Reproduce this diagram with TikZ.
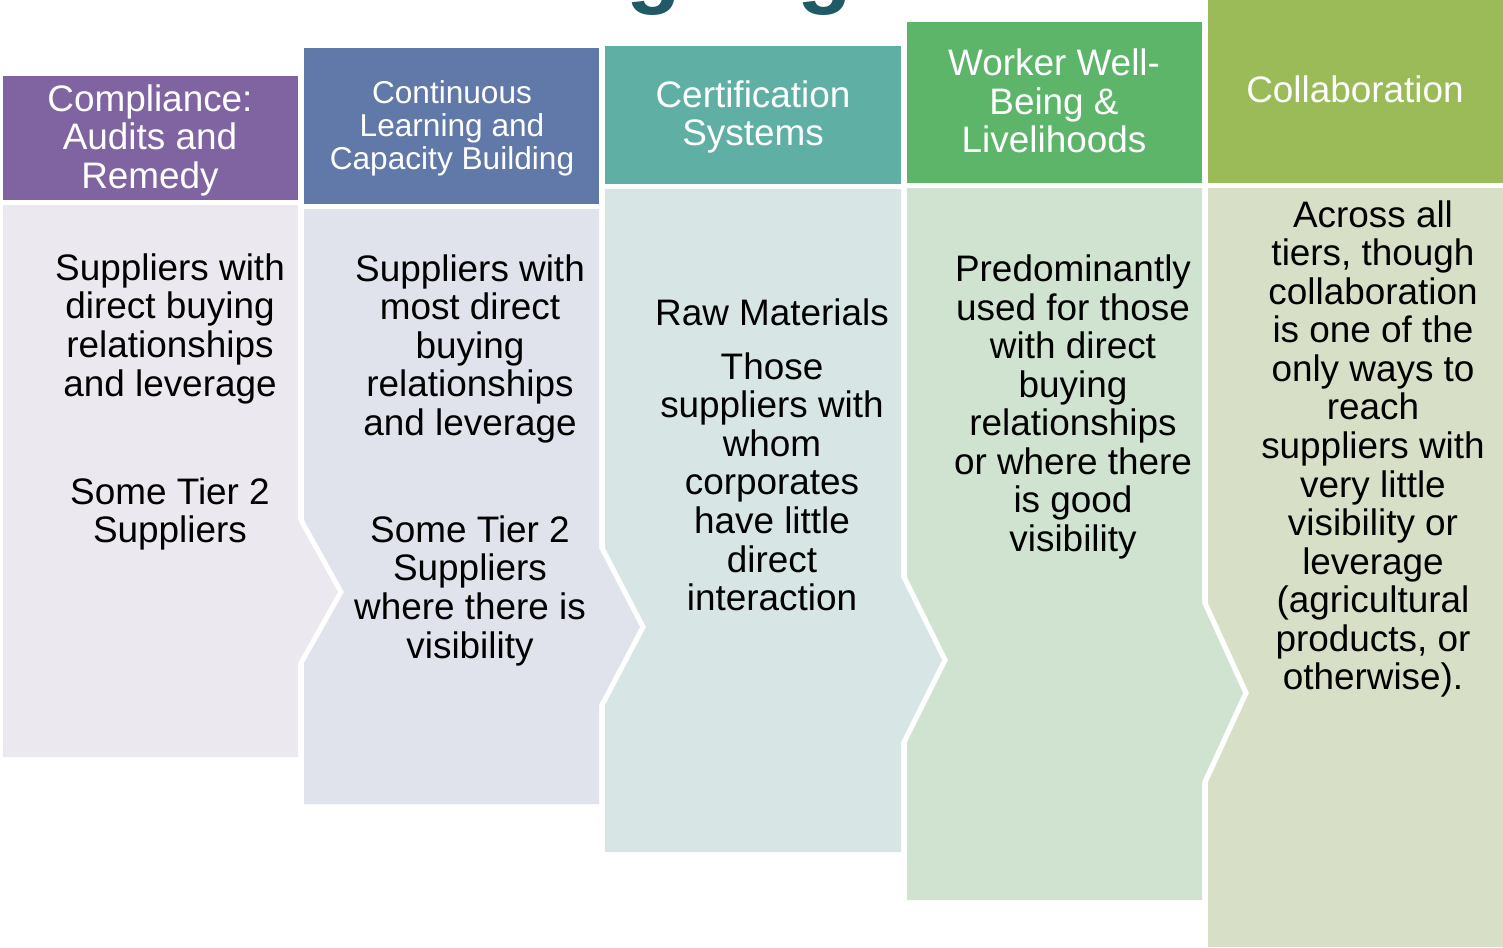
\documentclass[tikz,border=0pt]{standalone}
\usepackage{fontspec}
\setmainfont{Liberation Sans}
\usepackage{xcolor}
\definecolor{titlecolor}{RGB}{31,90,102}
\definecolor{complycolor}{RGB}{128,100,162}
\definecolor{learncolor}{RGB}{97,121,168}
\definecolor{certcolor}{RGB}{95,175,165}
\definecolor{workercolor}{RGB}{93,181,106}
\definecolor{collabcolor}{RGB}{155,187,89}
\definecolor{complybody}{RGB}{235,233,239}
\definecolor{learnbody}{RGB}{224,227,236}
\definecolor{certbody}{RGB}{216,229,229}
\definecolor{workerbody}{RGB}{207,227,208}
\definecolor{collabbody}{RGB}{215,224,198}

\begin{document}
\begin{tikzpicture}[
    x=0.02cm, y=-0.02cm,
    head/.style={text=white, align=center, inner sep=0pt,
                 font=\fontsize{21}{21.9}\selectfont},
    smallhead/.style={head, font=\fontsize{18}{18.8}\selectfont},
    body/.style={text=black, align=center, inner sep=0pt,
                 font=\fontsize{21}{21.95}\selectfont},
    glyph/.style={text=titlecolor, inner sep=0pt, anchor=base,
                  font=\fontsize{51}{51}\selectfont\bfseries},
]
\useasboundingbox (0,0) rectangle (1503,947);

% Title (only its descenders are on the page)
\node[glyph] (titleg1) at (654,-4) {g};
\node[glyph] (titleg2) at (825,-4) {g};

% Column 1: Compliance
\fill[complycolor] (3,76) rectangle (298,200);
\fill[complybody] (3,205) -- (298,205) -- (298,520) -- (338,592)
    -- (298,663) -- (298,757) -- (3,757) -- cycle;
\node[head] (comply) at (150,140) {Compliance:\\Audits and\\Remedy};
\node[body] (complytxt) at (170,402)
    {Suppliers with\\direct buying\\relationships\\and leverage\\[1.39cm]
     Some Tier 2\\Suppliers};

% Column 2: Continuous Learning
\fill[learncolor] (304,48) rectangle (599,204);
\fill[learnbody] (304,209) -- (599,209) -- (599,548) -- (640,627)
    -- (599,705) -- (599,804) -- (304,804) -- (304,663) -- (344,592)
    -- (304,520) -- cycle;
\node[smallhead] (learn) at (452,128)
    {Continuous\\Learning and\\Capacity Building};
\node[body] (learntxt) at (470,460)
    {Suppliers with\\most direct\\buying\\relationships\\and leverage\\[1.37cm]
     Some Tier 2\\Suppliers\\where there is\\visibility};

% Column 3: Certification
\fill[certcolor] (605,46) rectangle (901,184);
\fill[certbody] (605,189) -- (901,189) -- (901,577) -- (942,660)
    -- (901,742) -- (901,852) -- (605,852) -- (605,705) -- (646,627)
    -- (605,548) -- cycle;
\node[head] (cert) at (753,117) {Certification\\Systems};
\node[body] (certtxt) at (772,455)
    {Raw Materials\\[0.3cm]
     Those\\suppliers with\\whom\\corporates\\have little\\direct\\interaction};

% Column 4: Worker Well-Being
\fill[workercolor] (907,22) rectangle (1202,183);
\fill[workerbody] (907,188) -- (1202,188) -- (1202,603) -- (1243,693)
    -- (1202,782) -- (1202,900) -- (907,900) -- (907,742) -- (948,660)
    -- (907,577) -- cycle;
\node[head] (worker) at (1054,101) {Worker Well-\\Being \&\\Livelihoods};
\node[body] (workertxt) at (1073,407)
    {Predominantly\\used for those\\with direct\\buying\\relationships\\or where there\\is good\\visibility};

% Column 5: Collaboration
\fill[collabcolor] (1208,0) rectangle (1503,183);
\fill[collabbody] (1208,188) -- (1503,188) -- (1503,947) -- (1208,947)
    -- (1208,782) -- (1249,693) -- (1208,603) -- cycle;
\node[head] (collab) at (1355,89) {Collaboration};
\node[body] (collabtxt) at (1373,449)
    {Across all\\tiers, though\\collaboration\\is one of the\\only ways to\\reach\\suppliers with\\very little\\visibility or\\leverage\\(agricultural\\products, or\\otherwise).};

\end{tikzpicture}
\end{document}
